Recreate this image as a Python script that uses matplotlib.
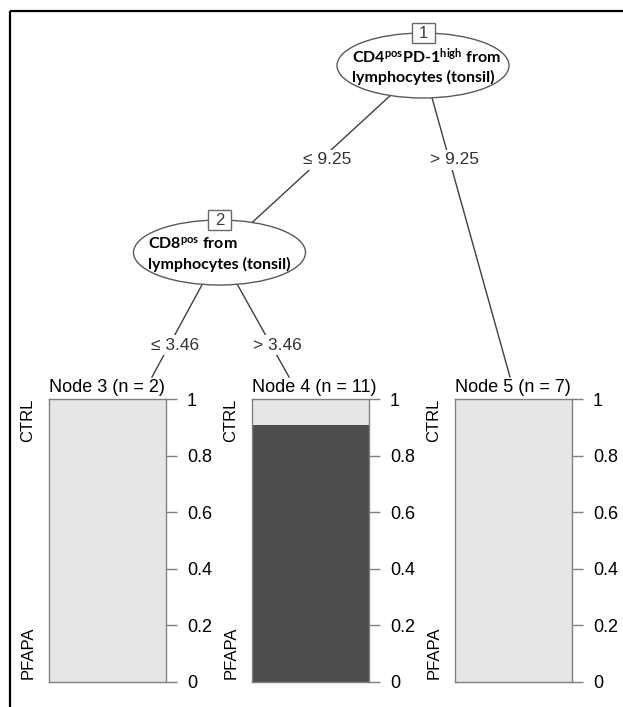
import numpy as np
import matplotlib.pyplot as plt
from matplotlib.patches import Ellipse, Rectangle

plt.rcParams['font.family'] = ['Liberation Sans', 'DejaVu Sans']
plt.rcParams['mathtext.fontset'] = 'custom'
plt.rcParams['mathtext.rm'] = 'Lato:bold'
plt.rcParams['mathtext.it'] = 'Lato:bold'
plt.rcParams['mathtext.bf'] = 'Lato:bold'

# classification tree: inner nodes, splits and terminal class counts
inner_ids = [1, 2]
inner_labels = [['$CD4^{pos}PD$-$1^{high}$ from', 'lymphocytes (tonsil)'],
                ['$CD8^{pos}$ from', 'lymphocytes (tonsil)']]
split_values = [9.25, 3.46]
terminal_ids = [3, 4, 5]
class_names = ['CTRL', 'PFAPA']
ctrl_counts = np.array([2, 1, 7])
pfapa_counts = np.array([0, 10, 0])
tick_values = [0, 0.2, 0.4, 0.6, 0.8, 1]
tick_labels = ['0', '0.2', '0.4', '0.6', '0.8', '1']

W, H = 623, 707
fig = plt.figure(figsize=(W / 100, H / 100), dpi=100)
fig.patch.set_facecolor('white')

# drawing canvas in pixel units (y downwards)
tree = fig.add_axes([0, 0, 1, 1])
tree.set_xlim(0, W)
tree.set_ylim(H, 0)
tree.axis('off')

# frame lines on top and left
tree.plot([10, W], [11, 11], color='black', lw=1.6, solid_capstyle='butt')
tree.plot([10, 10], [11, H], color='black', lw=1.6, solid_capstyle='butt')

line_col = '#404040'
grey = '#808080'
light = '#e6e6e6'
dark = '#4d4d4d'

# node layout (pixels)
inner_pos = {1: (423, 65.5), 2: (219.5, 252.5)}
bar_left = [49, 252, 455]
bar_w, bar_top, bar_h = 117, 399, 283
edge_end = {3: (152, 377), 4: (289, 377), 5: (510, 377)}

edges = [(1, 2, 0, '≤', (327, 160)), (1, 5, 0, '>', (455, 160)),
         (2, 3, 1, '≤', (175, 345)), (2, 4, 1, '>', (277, 345))]
for parent, child, s, op, lab in edges:
    x0, y0 = inner_pos[parent]
    x1, y1 = inner_pos[child] if child in inner_pos else edge_end[child]
    tree.plot([x0, x1], [y0, y1], color=line_col, lw=1.0, zorder=1)
    tree.text(lab[0], lab[1], f'{op} {split_values[s]}', ha='center',
              va='center', fontsize=12.5, color='#333333', zorder=3,
              bbox=dict(boxstyle='square,pad=0.15', fc='white', ec='none'))

for i, nid in enumerate(inner_ids):
    cx, cy = inner_pos[nid]
    tree.add_patch(Ellipse((cx, cy), 172, 65, fc='white', ec='#5a5a5a',
                           lw=1.0, zorder=4))
    top = cy - 32.5
    tree.add_patch(Rectangle((cx - 11.5, top - 10), 23, 20, fc='white',
                             ec='#6a6a6a', lw=1.0, zorder=5))
    tree.text(cx, top + 0.5, str(nid), ha='center', va='center',
              fontsize=12, color='#3a3a4a', zorder=6)
    tx = cx - 71
    tree.text(tx, cy - 9, inner_labels[i][0], ha='left', va='center',
              fontsize=11.5, family='Lato', weight='bold', zorder=6)
    tree.text(tx, cy + 11.5, inner_labels[i][1], ha='left', va='center',
              fontsize=11.5, family='Lato', weight='bold', zorder=6)

# terminal nodes as stacked bars of class proportions
n = ctrl_counts + pfapa_counts
for k, nid in enumerate(terminal_ids):
    left = bar_left[k]
    ax = fig.add_axes([left / W, 1 - (bar_top + bar_h) / H, bar_w / W, bar_h / H])
    p_pfapa = pfapa_counts[k] / n[k]
    p_ctrl = ctrl_counts[k] / n[k]
    ax.bar(0, p_pfapa, width=1, color=dark, linewidth=0)
    ax.bar(0, p_ctrl, bottom=p_pfapa, width=1, color=light, linewidth=0)
    ax.set_xlim(-0.5, 0.5)
    ax.set_ylim(0, 1)
    ax.set_xticks([])
    for sp in ax.spines.values():
        sp.set_color(grey)
        sp.set_linewidth(1.0)
    ax.yaxis.tick_right()
    ax.set_yticks(tick_values)
    ax.set_yticklabels(tick_labels)
    ax.tick_params(axis='y', length=8, width=1.0, color=grey, pad=7,
                   labelsize=13)
    ax.text(0, 1.012, f'Node {nid} (n = {n[k]})', transform=ax.transAxes,
            ha='left', va='bottom', fontsize=13)
    ax.text(-0.18, 1.0, class_names[0], transform=ax.transAxes, rotation=90,
            ha='center', va='top', fontsize=12)
    ax.text(-0.18, 0.01, class_names[1], transform=ax.transAxes, rotation=90,
            ha='center', va='bottom', fontsize=12)

fig.savefig('out.png', dpi=100)
